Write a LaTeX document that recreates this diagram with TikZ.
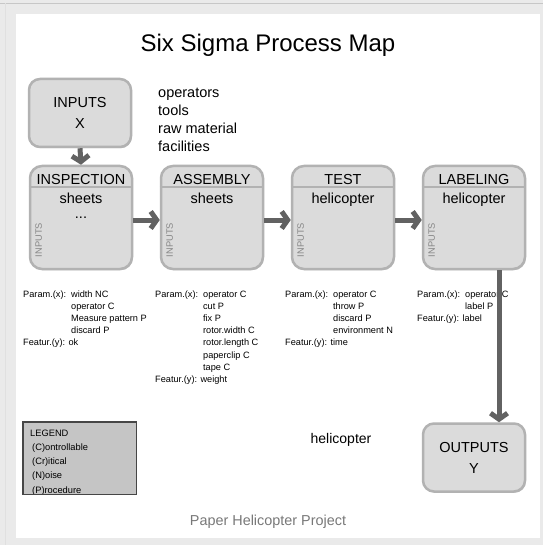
\documentclass[tikz,border=0pt]{standalone}
\usepackage{fontspec}
\setmainfont{Liberation Sans}
\usetikzlibrary{shapes,shadows,arrows,arrows.meta,positioning}

\definecolor{framegray}{RGB}{234,234,234}
\definecolor{boxfill}{RGB}{219,219,219}
\definecolor{boxdraw}{RGB}{178,178,178}
\definecolor{arrowgray}{RGB}{98,98,98}
\definecolor{legfill}{RGB}{197,197,197}
\definecolor{legdraw}{RGB}{70,70,70}
\definecolor{notegray}{RGB}{135,135,135}
\definecolor{footgray}{RGB}{120,120,120}

\tikzstyle{line} = [draw, arrowgray, line width=5pt, -{Straight Barb[length=6pt, width=17pt]}]
\tikzstyle{io} = [rectangle, rounded corners=11pt, draw=boxdraw, line width=2.5pt, fill=boxfill, minimum width=102pt, minimum height=68pt, align=center, font=\fontsize{14.5}{21}\selectfont, drop shadow={shadow xshift=0.8pt, shadow yshift=-1.2pt, fill=black!40, opacity=0.6}]
\tikzstyle{proc} = [rectangle, rounded corners=12pt, draw=boxdraw, line width=2.5pt, fill=boxfill, minimum width=102pt, minimum height=103pt, node distance=131pt, drop shadow={shadow xshift=0.8pt, shadow yshift=-1.2pt, fill=black!40, opacity=0.6}]
\tikzstyle{head} = [anchor=base, inner sep=0pt, font=\fontsize{14.5}{17}\selectfont]
\tikzstyle{sep} = [draw=boxdraw, line width=1.5pt]
\tikzstyle{side} = [rotate=90, inner sep=0pt, text=notegray, font=\fontsize{9.3}{11}\selectfont]
\tikzstyle{param} = [anchor=base west, inner sep=0pt, font=\fontsize{9.2}{12.2}\selectfont]

\begin{document}
\begin{tikzpicture}[x=1pt, y=-1pt]
	\useasboundingbox (0,0) rectangle (543,545);
	% page frame
	\fill[framegray] (0,0) rectangle (543,545);
	\draw[black!22, line width=1pt] (0,3.5) -- (543,3.5);
	\draw[black!12, line width=1pt] (5.5,3.5) -- (5.5,545);
	\fill[white] (16,14) rectangle (540,538);
	
	\node[anchor=base, font=\fontsize{24}{28}\selectfont] (title) at (268,52) {Six Sigma Process Map};
	
	\node[io] (inputs) at (80,113) {INPUTS\\X};
	\node[anchor=base west, inner sep=0pt, font=\fontsize{14.5}{18}\selectfont] (resources) at (158,98) {\begin{tabular}[t]{@{}l@{}}operators\\tools\\raw material\\facilities\end{tabular}};
	
	% process steps
	\node[proc] (insp) at (81,217.5) {};
	\node[proc, right of=insp] (asm) {};
	\node[proc, right of=asm] (test) {};
	\node[proc, right of=test] (lab) {};
	
	\node[head] (insph) at ([yshift=-20pt]insp.north) {INSPECTION};
	\node[head] (asmh) at ([yshift=-20pt]asm.north) {ASSEMBLY};
	\node[head] (testh) at ([yshift=-20pt]test.north) {TEST};
	\node[head] (labh) at ([yshift=-20pt]lab.north) {LABELING};
	
	\path[sep] ([yshift=-22.5pt]insp.north west) -- ([yshift=-22.5pt]insp.north east);
	\path[sep] ([yshift=-22.5pt]asm.north west) -- ([yshift=-22.5pt]asm.north east);
	\path[sep] ([yshift=-22.5pt]test.north west) -- ([yshift=-22.5pt]test.north east);
	\path[sep] ([yshift=-22.5pt]lab.north west) -- ([yshift=-22.5pt]lab.north east);
	
	\node[head] (inspb) at ([yshift=-39pt]insp.north) {sheets};
	\node[head] (inspdots) at ([yshift=-54pt]insp.north) {...};
	\node[head] (asmb) at ([yshift=-39pt]asm.north) {sheets};
	\node[head] (testb) at ([yshift=-39pt]test.north) {helicopter};
	\node[head] (labb) at ([yshift=-39pt]lab.north) {helicopter};
	
	\node[side] (inspin) at ([xshift=10pt, yshift=-22.5pt]insp.west) {INPUTS};
	\node[side] (asmin) at ([xshift=10pt, yshift=-22.5pt]asm.west) {INPUTS};
	\node[side] (testin) at ([xshift=10pt, yshift=-22.5pt]test.west) {INPUTS};
	\node[side] (labin) at ([xshift=10pt, yshift=-22.5pt]lab.west) {INPUTS};
	
	% parameters and features
	\node[param] (insppar) at (23,297) {\begin{tabular}[t]{@{}l@{\hspace{5pt}}l@{}}
		Param.(x): & width NC\\
		& operator C\\
		& Measure pattern P\\
		& discard P\\
		\multicolumn{2}{@{}l@{}}{Featur.(y): ok}
	\end{tabular}};
	\node[param] (asmpar) at (155,297) {\begin{tabular}[t]{@{}l@{\hspace{5pt}}l@{}}
		Param.(x): & operator C\\
		& cut P\\
		& fix P\\
		& rotor.width C\\
		& rotor.length C\\
		& paperclip C\\
		& tape C\\
		\multicolumn{2}{@{}l@{}}{Featur.(y): weight}
	\end{tabular}};
	\node[param] (testpar) at (285,297) {\begin{tabular}[t]{@{}l@{\hspace{5pt}}l@{}}
		Param.(x): & operator C\\
		& throw P\\
		& discard P\\
		& environment N\\
		\multicolumn{2}{@{}l@{}}{Featur.(y): time}
	\end{tabular}};
	\node[param] (labpar) at (417,297) {\begin{tabular}[t]{@{}l@{\hspace{5pt}}l@{}}
		Param.(x): & operator C\\
		& label P\\
		\multicolumn{2}{@{}l@{}}{Featur.(y): label}
	\end{tabular}};
	
	\node[io, below of=lab, node distance=240pt] (outputs) {OUTPUTS\\Y};
	\node[anchor=base, font=\fontsize{14}{17}\selectfont] (product) at (341,443.5) {helicopter};
	
	% flow
	\path[line] (inputs.south) -- (insp.north);
	\path[line] ([yshift=-2.5pt]insp.east) -- ([yshift=-2.5pt]asm.west);
	\path[line] ([yshift=-2.5pt]asm.east) -- ([yshift=-2.5pt]test.west);
	\path[line] ([yshift=-2.5pt]test.east) -- ([yshift=-2.5pt]lab.west);
	\coordinate (labout) at ([xshift=25pt]lab.south);
	\path[line] (labout) -- (labout |- outputs.north);
	
	% legend
	\node[rectangle, fill=legfill, minimum width=113pt, minimum height=72pt, anchor=north west, inner sep=0pt] (legend) at (23,422) {};
	\begin{scope}
		\clip (legend.south west) rectangle (legend.north east);
		\node[anchor=base west, inner sep=0pt, font=\fontsize{9.3}{14.3}\selectfont] (legtext) at (30,436) {\begin{tabular}[t]{@{}l@{}}
			LEGEND\\
			\hspace{2pt}(C)ontrollable\\
			\hspace{2pt}(Cr)itical\\
			\hspace{2pt}(N)oise\\
			\hspace{2pt}(P)rocedure
		\end{tabular}};
	\end{scope}
	\draw[legdraw, line width=1.2pt] (legend.south west) rectangle (legend.north east);
	
	\node[anchor=base, text=footgray, font=\fontsize{14.4}{17}\selectfont] (footer) at (268,525) {Paper Helicopter Project};
\end{tikzpicture}
\end{document}
